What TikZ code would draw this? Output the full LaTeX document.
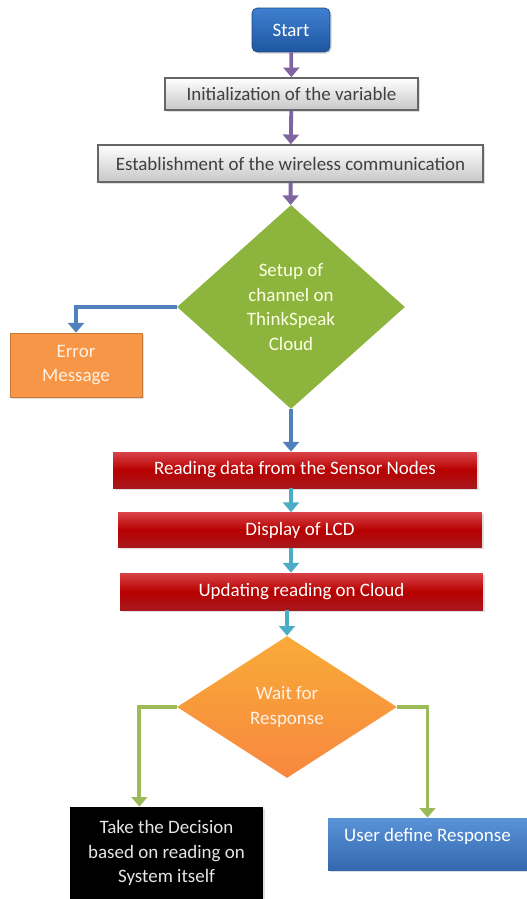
\documentclass[tikz,border=0pt]{standalone}
\usepackage{fontspec}
\setmainfont{Carlito}
\usetikzlibrary{shapes.geometric,arrows.meta,shadows,calc}
\definecolor{flowpurple}{HTML}{8064A2}
\definecolor{flowblue}{HTML}{4F81BD}
\definecolor{flowteal}{HTML}{4BACC6}
\definecolor{flowgreen}{HTML}{9BBB59}
\definecolor{starttop}{HTML}{3F80D0}
\definecolor{startbot}{HTML}{1E56A0}
\definecolor{leafgreen}{HTML}{8DB53E}
\definecolor{errorange}{HTML}{F79646}
\definecolor{redtop}{HTML}{D84348}
\definecolor{redbot}{HTML}{A8181E}
\definecolor{usertop}{HTML}{5A93D8}
\definecolor{userbot}{HTML}{3468AE}
\begin{document}
\begin{tikzpicture}[x=0.02cm,y=-0.02cm,font=\fontsize{10.8}{14}\selectfont,
  box/.style={rectangle,inner sep=0pt,align=center,drop shadow={opacity=0.25,shadow xshift=1pt,shadow yshift=-1pt}},
  greybox/.style={box,draw=black!60,line width=0.9pt,top color=white,bottom color=black!22,text=black!75},
  redbox/.style={box,top color=redtop,bottom color=redbot,middle color=red!72!black,text=white},
  decision/.style={diamond,inner sep=0pt,align=center},
  flow/.style={line width=2.2pt,-{Triangle[width=9pt,length=5.5pt]}}]
\useasboundingbox (0,0) rectangle (527,899);
% top part
\node[box,rounded corners=3pt,draw=startbot!80!black,top color=starttop,bottom color=startbot,text=white,
  minimum width=1.56cm,minimum height=0.88cm] (start) at (291,30) {Start};
\node[greybox,minimum width=5.06cm,minimum height=0.64cm] (init) at (291.5,94) {Initialization of the variable};
\node[greybox,minimum width=7.7cm,minimum height=0.74cm] (estab) at (290.5,163.5) {Establishment of the wireless communication};
\node[decision,fill=leafgreen,text=green!8!yellow!10!white,minimum width=4.56cm,minimum height=4.08cm] (setup) at (291,307)
  {Setup of\\channel on\\ThinkSpeak\\Cloud};
\node[box,fill=errorange,draw=errorange!80!black,text=orange!10!white,
  minimum width=2.64cm,minimum height=1.28cm] (err) at (76,365) {Error\\Message};
% sensor part
\node[redbox,minimum width=7.28cm,minimum height=0.72cm] (read) at (295,470) {Reading data from the Sensor Nodes};
\node[redbox,minimum width=7.28cm,minimum height=0.70cm] (disp) at (300,530) {Display of LCD};
\node[redbox,minimum width=7.26cm,minimum height=0.74cm] (upd) at (301.5,591.5) {Updating reading on Cloud};
\node[decision,top color=errorange!80!yellow,bottom color=errorange!90!red,text=orange!10!white,
  minimum width=4.4cm,minimum height=2.84cm] (wait) at (287,707) {Wait for\\Response};
\node[box,fill=black,text=black!10,minimum width=3.86cm,minimum height=1.84cm] (dec) at (166.5,853)
  {Take the Decision\\based on reading on\\System itself};
\node[box,top color=usertop,bottom color=userbot,text=white,minimum width=3.98cm,minimum height=1.04cm,
  text height=7pt,text depth=10pt] (user) at (427.5,844) {User define Response};
% connectors
\draw[flow,flowpurple] (start) -- (init);
\draw[flow,flowpurple] (init) -- (estab);
\draw[flow,flowpurple] (estab) -- (setup);
\draw[flow,flowblue] (setup.west) -| (err.north);
\draw[flow,flowblue] (setup.south) -- (setup.south |- read.north);
\draw[flow,flowteal] (read.south -| setup.south) -- (disp.north -| setup.south);
\draw[flow,flowteal] (disp.south -| setup.south) -- (upd.north -| setup.south);
\draw[flow,flowteal] (upd.south -| wait.north) -- (wait.north);
\draw[flow,flowgreen] (wait.west) -| ($(dec.north west)!0.36!(dec.north east)$);
\draw[flow,flowgreen] (wait.east) -| (user.north);
\end{tikzpicture}
\end{document}
